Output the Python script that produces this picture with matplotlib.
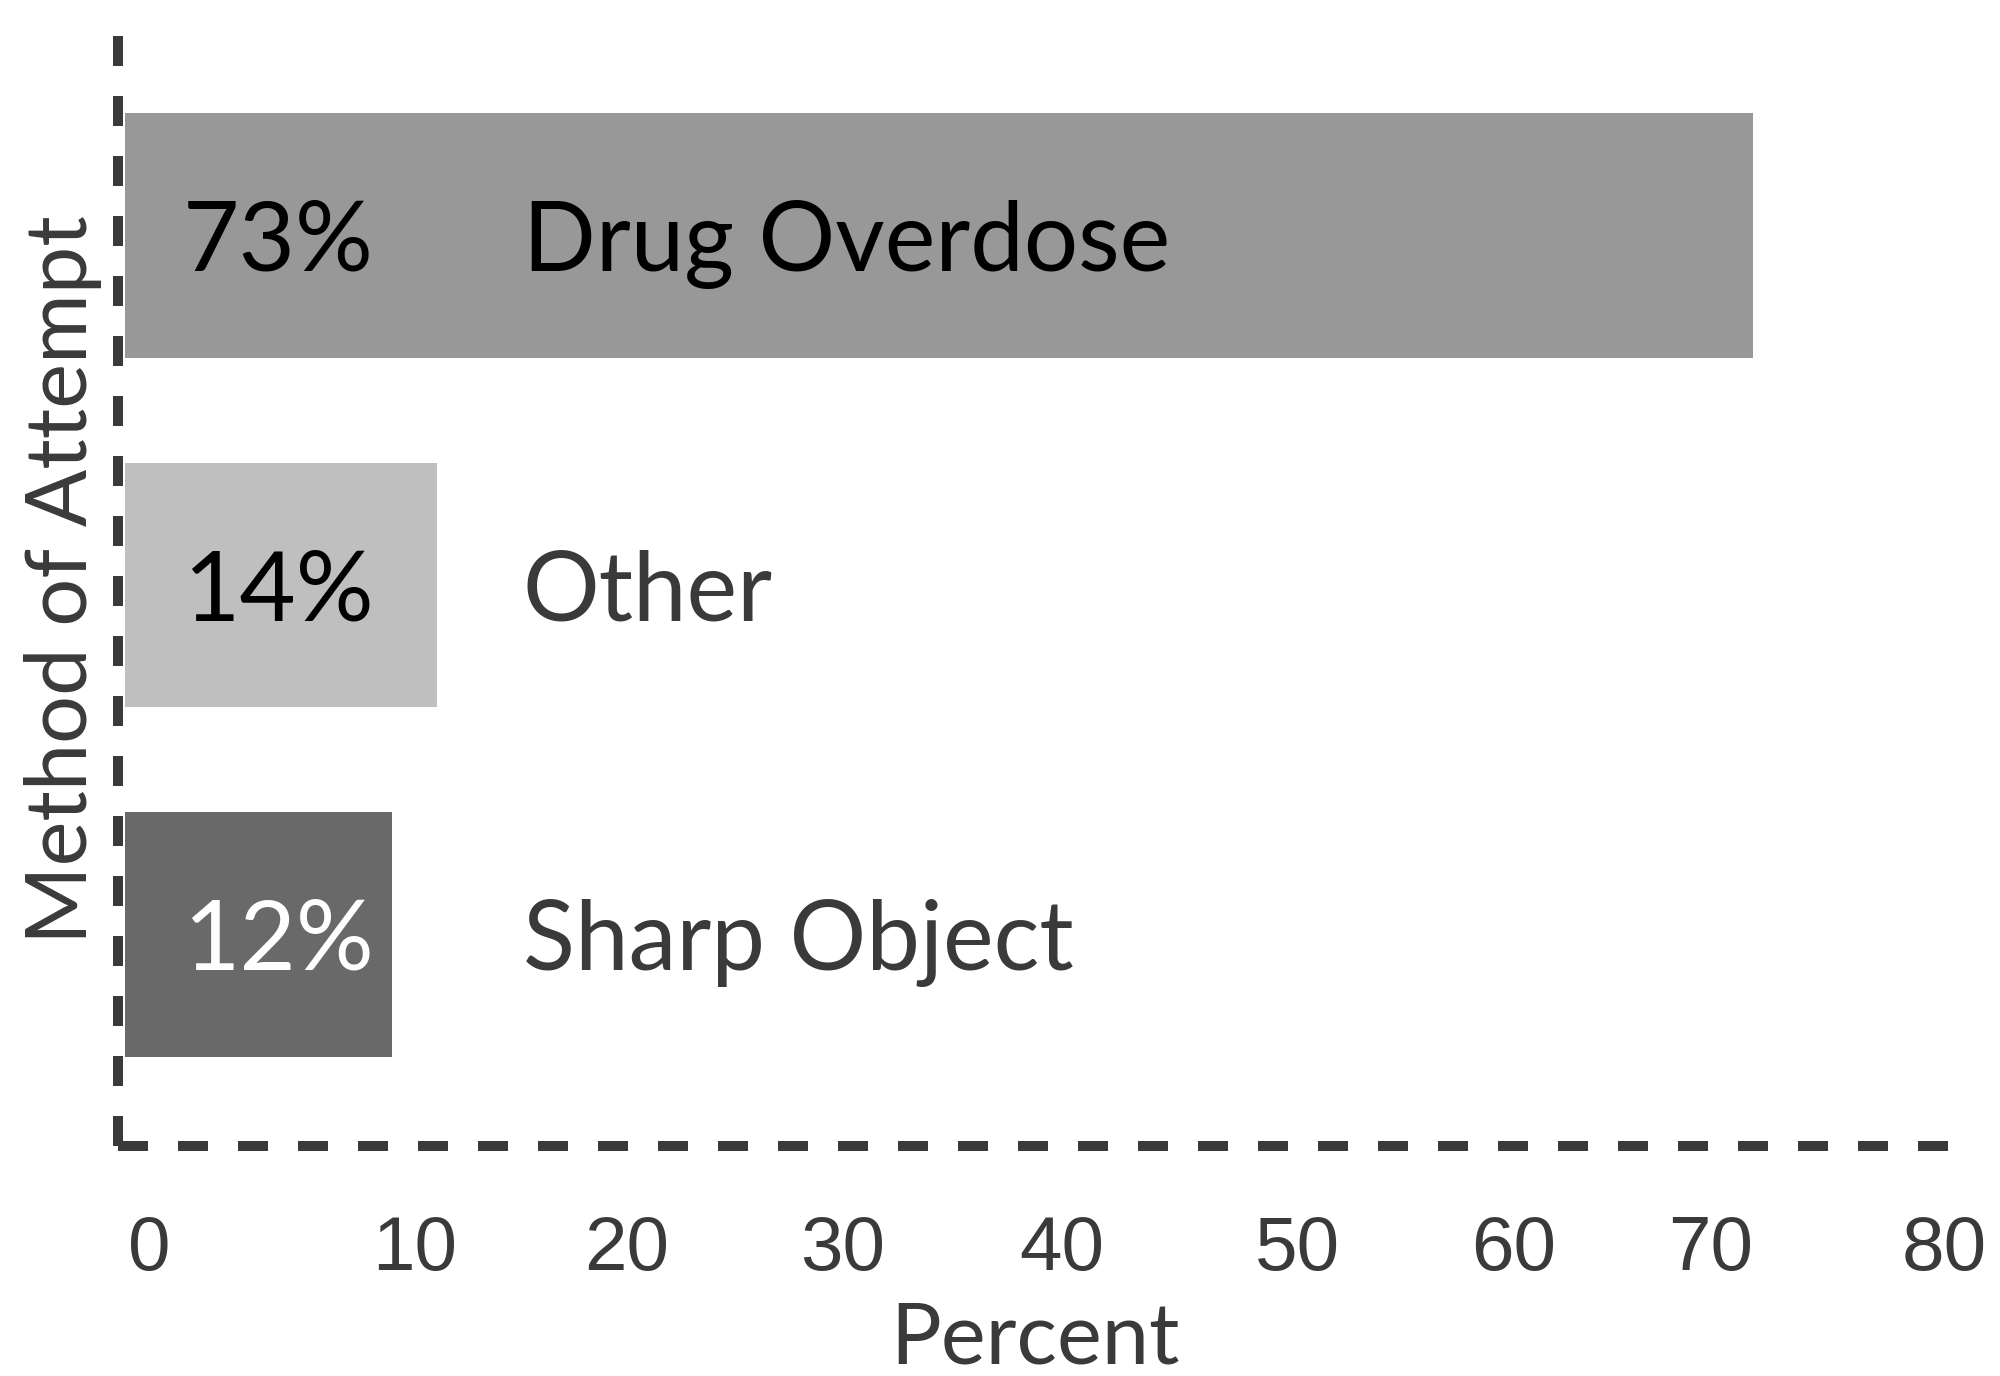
import matplotlib
matplotlib.use("Agg")
import matplotlib.pyplot as plt

methods = ["Drug Overdose", "Other", "Sharp Object"]
percent = [73, 14, 12]
pct_labels = ["73%", "14%", "12%"]
bar_colors = ["#989898", "#bfbfbf", "#696969"]
pct_colors = ["black", "black", "white"]
name_colors = ["black", "#3a3a3a", "#3a3a3a"]

# tick labels are hand placed in the original, not evenly spaced
tick_labels = ["0", "10", "20", "30", "40", "50", "60", "70", "80"]
tick_pos = [1.1, 13.0, 22.5, 32.2, 42.0, 52.6, 62.3, 71.1, 81.6]

dark = "#3a3a3a"

fig = plt.figure(figsize=(20, 13.76), dpi=100)
ax = fig.add_axes([0.059, 0.1672, 0.9165, 0.8088])

y = list(range(len(methods)))
ax.barh(y, percent, height=0.7, color=bar_colors, left=0)

for i in y:
    ax.text(11.17, i, pct_labels[i], ha="right", va="center_baseline",
            fontsize=70, family=["Lato", "DejaVu Sans"], color=pct_colors[i])
    ax.text(17.85, i, methods[i], ha="left", va="center_baseline",
            fontsize=69, family=["Lato", "DejaVu Sans"], color=name_colors[i])

ax.set_xlim(-0.31, 81.9)
ax.set_ylim(2.605, -0.579)

ax.set_xticks(tick_pos)
ax.set_xticklabels(tick_labels, family=["Liberation Sans", "DejaVu Sans"],
                   fontsize=55, color=dark)
ax.set_yticks([])
ax.tick_params(axis="x", length=0, pad=50)

ax.set_xlabel("Percent", fontsize=61, color=dark,
              family=["Lato", "DejaVu Sans"], labelpad=10)
ax.set_ylabel("Method of Attempt", fontsize=61, color=dark,
              family=["Lato", "DejaVu Sans"])
ax.yaxis.set_label_coords(-0.009, 0.509)

for side in ["top", "right"]:
    ax.spines[side].set_visible(False)
for side in ["left", "bottom"]:
    ax.spines[side].set_color(dark)
    ax.spines[side].set_linewidth(7.2)
    ax.spines[side].set_linestyle((0, (3, 3)))
    ax.spines[side].set_capstyle("butt")

fig.savefig("out.png", dpi=100)
